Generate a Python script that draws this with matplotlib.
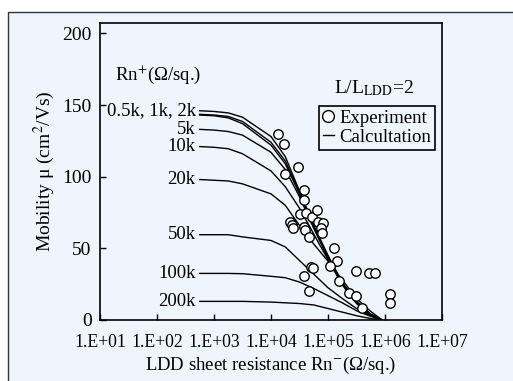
import matplotlib
matplotlib.use("Agg")
import matplotlib.pyplot as plt
from matplotlib.lines import Line2D
from matplotlib.patches import Rectangle

plt.rcParams['font.family'] = ['Liberation Serif', 'DejaVu Serif']
plt.rcParams['mathtext.fontset'] = 'stix'
plt.rcParams['font.size'] = 13.5

BG = '#eef5fc'

# LDD sheet resistance (x) sampled along the calculated curves
rn_minus = [560, 1000, 1780, 3160, 10000, 17800, 31600, 56200,
            100000, 178000, 316000, 562000, 890000]

# calculated mobility per Rn+ value
curve_labels = ['0.5k, 1k, 2k', None, None, '5k', '10k', '20k', '50k', '100k', '200k']
mu_05k = [146, 145.5, 144.5, 141.5, 128, 114, 90, 66, 45, 26, 13, 4, 0]
mu_1k = [143.5, 143, 142, 138.5, 124, 111, 89, 65, 44.5, 26, 13, 4, 0]
mu_2k = [143, 142.5, 141, 137, 122, 109, 88, 65, 44, 25.5, 12.5, 4, 0]
mu_5k = [133, 132.5, 131.5, 129, 117, 105, 86, 64, 43, 25, 12, 3.5, 0]
mu_10k = [121, 120.5, 119.5, 116, 104, 93, 78, 60, 42, 24.5, 11.5, 3, 0]
mu_20k = [98, 97.5, 97, 95, 88, 80, 66, 53, 41, 28, 15, 6, 0]
mu_50k = [59.5, 59.5, 59.5, 58, 55.5, 51, 41.5, 32, 22.5, 15, 8, 3, 0]
mu_100k = [32.5, 32.5, 32.5, 32.3, 30.5, 29.5, 26.5, 22, 17, 12, 6.5, 2.5, 0]
mu_200k = [13, 13, 13, 13, 12.5, 12, 11.5, 10.5, 8, 5.5, 3, 1, 0]
curves = [mu_05k, mu_1k, mu_2k, mu_5k, mu_10k, mu_20k, mu_50k, mu_100k, mu_200k]

# experiment
exp_rn = [13200, 16600, 17800, 29500, 38500, 38500, 32400, 40700, 21400, 22900,
          24500, 37200, 39800, 45700, 52500, 64600, 67600, 81300, 74100, 79400,
          129000, 141000, 110000, 50100, 55000, 37200, 45700, 158000, 229000, 316000,
          316000, 389000, 525000, 676000, 1200000, 1200000]
exp_mu = [130, 123, 102, 107, 91, 84, 74, 75, 68.5, 66,
          64, 65, 62.5, 58, 72, 76.5, 68.5, 67.5, 64, 60.5,
          50.5, 41.5, 38, 37, 36, 31, 20, 27, 19, 34,
          16.5, 8.5, 32.5, 32.5, 18, 12]

x_ticks = [1e1, 1e2, 1e3, 1e4, 1e5, 1e6, 1e7]
x_ticklabels = ['1.E+01', '1.E+02', '1.E+03', '1.E+04', '1.E+05', '1.E+06', '1.E+07']
y_ticks = [0, 50, 100, 150, 200]

fig = plt.figure(figsize=(5.13, 3.81), dpi=100)
fig.patch.set_facecolor('white')
fig.patches.append(Rectangle((8 / 513, -0.1), 2, 1 - 12.3 / 381 + 0.1,
                             transform=fig.transFigure, facecolor=BG,
                             edgecolor='#333333', lw=1, zorder=-10))

ax = fig.add_axes([100 / 513, 1 - 320 / 381, 342 / 513, 296.7 / 381])
ax.set_facecolor(BG)
ax.set_xscale('log')

for mu, lab in zip(curves, curve_labels):
    ax.plot(rn_minus, mu, color='black', lw=1.0)
    if lab:
        ax.text(rn_minus[0] / 10 ** 0.07, mu[0], lab, ha='right', va='center')

ax.plot(exp_rn, exp_mu, 'o', ms=6.8, mfc='white', mec='black', mew=1.0, zorder=3)

ax.set_xlim(10, 1e7)
ax.set_ylim(0, 207)
ax.set_xticks(x_ticks)
ax.set_xticklabels(x_ticklabels, fontsize=12.8)
ax.minorticks_off()
ax.set_yticks(y_ticks)
ax.tick_params(direction='in', length=4, width=1, color='black')
ax.tick_params(axis='x', pad=10)
ax.tick_params(axis='y', pad=6, labelsize=14)
for s in ax.spines.values():
    s.set_linewidth(1.2)

ax.set_xlabel(r'LDD sheet resistance Rn$^{-}$(Ω/sq.)', labelpad=3)
ax.set_ylabel(r'Mobility μ (cm$^{2}$/Vs)', labelpad=4, fontsize=14)

ax.text(0.044, 0.826, r'Rn$^{+}$(Ω/sq.)', transform=ax.transAxes, ha='left', va='center')
ax.text(0.684, 0.782, r'L/L$_{\mathrm{LDD}}$=2', transform=ax.transAxes, ha='left',
        va='center', fontsize=14)

handles = [Line2D([], [], marker='o', ls='none', ms=8.5, mfc='white', mec='black'),
           Line2D([], [], color='black', lw=1.0)]
leg = ax.legend(handles, ['Experiment', 'Calcultation'], loc='upper right',
                bbox_to_anchor=(0.98, 0.721), borderaxespad=0, handlelength=0.6,
                handletextpad=0.3, borderpad=0.2, labelspacing=0.1,
                fancybox=False, framealpha=1, facecolor=BG, edgecolor='black')
leg.get_frame().set_linewidth(1.2)

fig.savefig('out.png', dpi=100)
